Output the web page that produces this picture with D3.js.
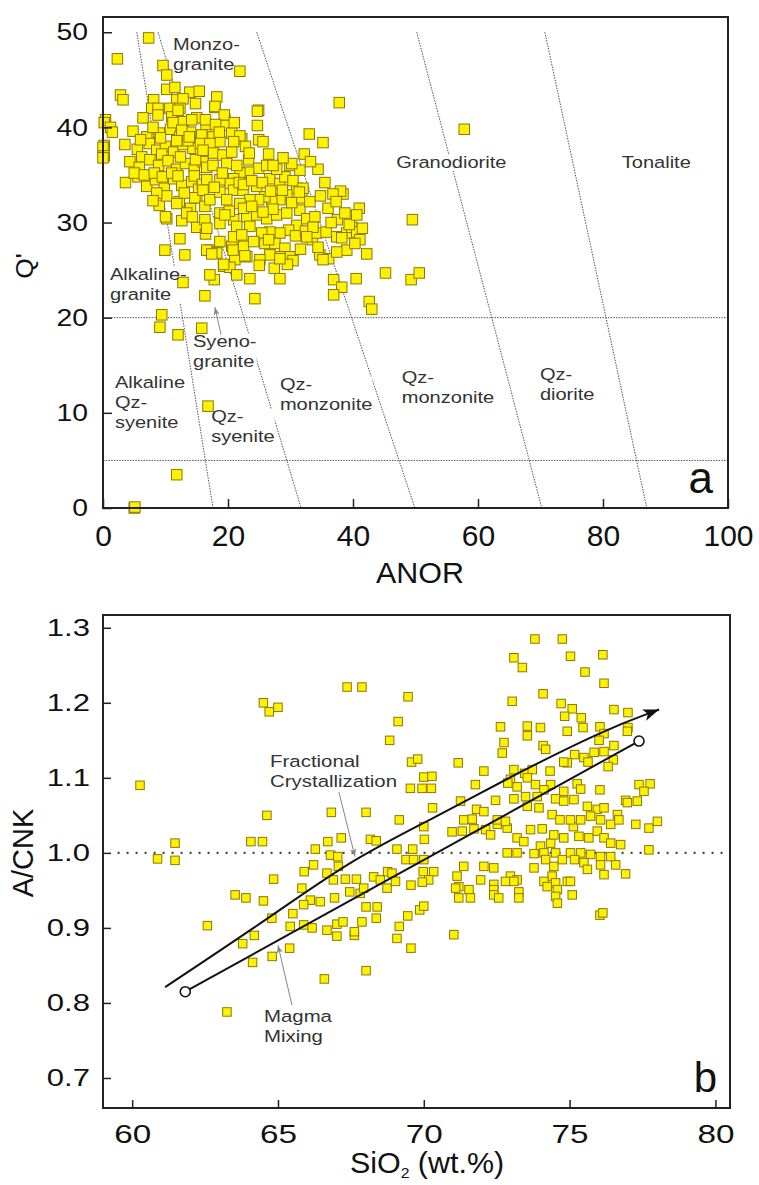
<!DOCTYPE html>
<html>
<head>
<meta charset="utf-8">
<script src="https://cdn.jsdelivr.net/npm/d3@7"></script>
<style>
body { margin: 0; background: #fff; }
svg { display: block; font-family: "Liberation Sans", Arial, sans-serif; }
</style>
</head>
<body>
<svg id="chart" width="759" height="1185"></svg>
<script>

// ---------- panel a : ANOR vs Q' ----------
var anorTicks = [0, 20, 40, 60, 80, 100];
var qTicks = [0, 10, 20, 30, 40, 50];

// field boundaries: ANOR where each line meets Q'=50 and Q'=0
var boundTop = [5.4, 8.8, 24.6, 50.2, 70.7];
var boundBottom = [17.6, 31.7, 49.9, 70.2, 87.0];
var qLevels = [20, 5];

// [ANOR, Q']
var samplesTop = [
    [7.3,49.4],[2.3,47.2],[9.6,46.5],[10.2,45.5],[21.9,45.9],[2.8,43.4],[3.2,42.9],[10.2,44.0],
    [13.9,43.7],[15.4,43.8],[18.2,43.2],[17.9,42.1],[24.9,41.8],[8.1,42.9],[11.8,42.9],[12.8,43.0],
    [7.8,42.0],[8.8,42.0],[10.7,42.0],[12.3,42.0],[24.7,41.7],[33.0,39.3],[35.2,38.4],[37.8,42.6],
    [57.8,39.8],[11.5,44.2],[14.8,42.5]
];
var samplesAxis = [
    [0.4,40.8],[0.2,40.5],[1.2,40.0],[0.2,38.1],[0.0,37.9],[0.2,37.0],[0.0,36.8],[1.5,39.5]
];
var samplesLeft = [
    [6.4,41.0],[8.8,41.3],[11.0,41.1],[12.8,40.6],[15.0,41.0],[19.5,40.8],[16.5,40.3],[24.7,40.2],
    [4.8,39.6],[7.0,39.0],[9.0,39.4],[10.8,39.8],[12.3,39.0],[14.0,39.5],[15.8,39.2],[17.6,39.0],
    [22.2,38.8],[24.9,38.7],[25.6,38.5],[3.5,38.2],[5.5,37.7],[7.4,38.3],[8.6,37.6],[10.0,38.0],
    [11.3,37.4],[12.8,38.2],[14.4,37.8],[15.6,37.3],[13.6,38.6],[9.4,37.2],[6.2,36.9],[4.3,36.4],
    [5.8,35.8],[7.5,36.6],[8.9,36.0],[10.4,36.5],[11.8,35.6],[13.2,36.2],[14.6,35.7],[16.0,36.4],
    [3.6,34.2],[5.6,34.8],[7.0,33.8],[8.4,34.5],[9.8,33.6],[11.3,34.6],[12.6,33.9],[14.2,34.3],
    [15.3,33.5],[9.0,31.8],[10.2,32.8],[12.2,32.2],[14.0,31.5],[15.0,32.6],[10.2,30.4],[12.6,30.2],
    [15.0,29.5],[12.3,28.3],[9.9,27.1],[13.1,26.6],[6.0,38.7],[5.0,35.2],[6.6,35.0],[8.0,40.0],
    [9.2,38.9],[8.2,35.2],[9.5,34.8],[8.6,33.1],[10.0,30.6],[8.0,32.3],[12.0,41.8],[11.2,40.5],
    [12.6,39.7],[11.8,38.6],[12.4,36.9],[11.0,35.2],[12.0,34.9],[13.0,33.1],[11.8,32.0],[13.4,31.0],
    [14.2,40.8],[16.4,40.8],[13.8,39.0],[15.6,38.3],[14.8,36.6],[16.6,35.8],[14.6,34.9],[15.9,34.0],
    [14.7,32.6],[16.3,31.7],[14.3,30.6],[16.4,28.8],[17.1,27.1]
];
var samplesMiddle = [
    [17.9,42.2],[19.4,41.3],[19.4,40.2],[20.6,39.4],[21.9,39.1],[20.9,38.5],[18.7,38.5],[17.1,38.3],
    [16.0,37.6],[17.7,37.3],[19.2,37.1],[20.6,37.4],[19.8,36.2],[23.3,36.6],[24.9,35.7],[23.3,35.3],
    [21.9,35.2],[20.9,34.6],[20.3,34.1],[18.7,34.5],[16.6,34.5],[16.0,33.4],[17.1,32.4],[18.7,33.2],
    [20.9,33.4],[22.4,33.4],[24.6,33.8],[26.7,34.6],[28.3,34.1],[29.1,34.8],[31.0,33.6],[29.4,32.9],
    [28.3,32.4],[27.0,32.4],[25.9,32.7],[24.9,32.4],[23.5,32.4],[21.9,32.0],[19.8,32.4],[18.7,31.0],
    [16.3,30.3],[16.6,29.4],[18.7,29.9],[20.9,30.3],[23.0,30.6],[24.6,30.8],[26.2,30.4],[27.8,30.8],
    [29.4,31.0],[31.5,31.3],[31.0,29.7],[29.7,29.2],[28.3,28.9],[26.7,29.0],[25.4,28.9],[23.5,29.6],
    [21.4,29.6],[18.7,28.0],[20.6,27.5],[22.5,27.5],[20.9,28.5],[24.1,28.0],[25.9,27.8],[27.5,27.8],
    [29.1,27.3],[29.9,26.4],[28.3,26.4],[26.7,26.6],[25.1,26.1],[23.0,26.4],[21.1,26.1],[19.3,25.4],
    [17.7,26.9],[16.6,27.1],[32.2,37.2],[34.4,35.6],[29.9,36.0],[31.5,35.5],[18.0,40.3],[21.0,40.5],
    [18.6,39.5],[17.6,36.0],[21.4,36.0],[19.1,35.2],[21.8,34.2],[17.8,33.7],[20.2,31.2],[22.5,31.5],
    [19.5,30.8],[18.2,26.8],[20.3,25.3],[22.8,38.0],[23.4,37.3],[22.5,34.0],[23.8,34.4],[25.5,34.2],
    [26.8,33.3],[27.8,35.6],[26.2,36.0],[28.7,33.4],[30.4,34.4],[30.2,32.1],[31.8,32.6],[27.2,31.4],
    [25.6,31.1],[23.8,31.7],[22.2,28.7],[26.5,28.2],[30.8,28.6],[32.4,29.1],[33.5,28.2],[31.6,27.2],
    [30.4,26.0],[27.4,25.2]
];
var samplesRight = [
    [34.7,26.6],[36.1,26.2],[34.4,27.4],[37.4,28.5],[39.0,28.9],[39.8,29.5],[40.6,29.0],[41.1,28.2],
    [42.2,26.7],[39.0,27.1],[40.3,27.8],[34.2,28.9],[32.6,30.4],[33.9,30.6],[33.1,32.2],[32.0,33.6],
    [35.7,29.0],[37.4,26.9],[35.2,26.1],[41.0,31.5],[38.4,33.0],[38.0,33.3],[36.0,31.5],[37.5,30.3],
    [38.7,31.0],[39.4,29.8],[40.6,30.8],[41.5,29.4],[38.2,28.4],[36.5,30.0],[33.6,29.5],[32.6,28.5],
    [34.8,32.8],[36.8,33.0],[37.3,32.2],[35.5,34.2],[31.4,33.2],[30.2,36.2],[28.8,36.8],[26.5,37.2],
    [27.2,36.0],[33.2,36.4],[49.5,30.3]
];
var samplesLow = [
    [28.3,24.1],[23.5,24.1],[21.4,24.5],[17.8,24.0],[17.1,24.5],[29.5,25.6],[28.3,26.2],[25.0,25.5],
    [22.7,26.5],[20.8,27.1],[19.3,25.6],[17.4,26.7],[36.9,24.0],[38.2,23.2],[36.9,22.4],[40.5,24.1],
    [42.6,21.7],[43.0,20.9],[45.2,24.7],[49.3,24.0],[50.6,24.7],[12.8,23.7],[16.3,22.3],[24.3,22.0],
    [9.4,20.3],[9.1,19.0],[12.0,18.2],[15.8,18.9],[16.8,10.7],[11.8,3.5],[5.0,0.0],[5.1,0.1]
];

// field names, lines split by "|", anchored at the first baseline
var fieldText = ["Monzo-|granite", "Granodiorite", "Tonalite", "Alkaline-|granite", "Syeno-|granite",
                 "Alkaline|Qz-|syenite", "Qz-|syenite", "Qz-|monzonite", "Qz-|monzonite", "Qz-|diorite"];
var fieldAnor = [11.2, 46.9, 83.0, 1.1, 14.4, 1.9, 17.3, 28.3, 47.8, 69.9];
var fieldQ = [48.1, 35.7, 35.7, 23.95, 16.9, 12.6, 9.0, 12.4, 13.1, 13.4];

// ---------- panel b : SiO2 vs A/CNK ----------
var siTicks = [60, 65, 70, 75, 80];
var acnkTicks = [0.7, 0.8, 0.9, 1.0, 1.1, 1.2, 1.3];

// [SiO2, A/CNK]
var rocksLow = [
    [60.27,1.090],[60.87,0.992],[61.47,1.013],[61.47,0.990],[63.25,0.788],[62.58,0.903],[63.53,0.944],[63.90,0.940],
    [64.50,0.936],[63.79,0.879],[64.19,0.890],[64.13,0.854],[64.80,0.862],[65.40,0.873],[64.79,0.913],[64.85,0.965],
    [64.62,1.050],[64.07,1.015],[64.47,1.015],[64.50,1.200],[64.70,1.188],[65.00,1.194],[67.37,1.221],[67.88,1.221],
    [69.46,1.208],[69.12,1.175],[68.83,1.150],[69.58,1.121],[69.79,1.125],[70.00,1.101],[70.28,1.102],[69.54,1.086],
    [69.94,1.086],[70.26,1.086],[70.30,1.060],[69.16,1.044],[68.02,1.054],[66.83,1.054],[67.17,1.020],[68.17,1.018],
    [68.37,1.016],[69.08,1.005],[69.62,1.005],[70.02,1.018],[70.00,1.035],[66.28,1.005],[66.71,1.015],[66.80,0.997],
    [67.05,0.995],[66.22,0.984],[65.90,0.975],[67.07,0.982],[66.68,0.973],[66.90,0.964],[67.31,0.965],[67.69,0.965],
    [67.46,0.948],[67.82,0.946],[67.94,0.953],[68.28,0.968],[68.51,0.964],[68.76,0.975],[68.91,0.973],[68.74,0.953],
    [69.03,0.962],[69.39,0.991],[69.65,0.991],[70.00,0.991],[69.98,0.975],[70.34,0.975],[70.17,0.964],[69.56,0.957],
    [69.95,0.961],[65.82,0.953],[66.11,0.937],[66.45,0.935],[65.88,0.931],[66.94,0.940],[68.02,0.928],[68.40,0.928],
    [65.51,0.919],[65.88,0.904],[66.17,0.900],[65.42,0.902],[66.68,0.897],[67.02,0.905],[67.23,0.908],[67.02,0.889],
    [67.62,0.890],[67.62,0.895],[67.88,0.908],[68.37,0.913],[69.08,0.886],[69.16,0.902],[69.45,0.916],[69.86,0.924],
    [70.00,0.929],[69.56,0.873],[68.02,0.843],[66.59,0.832]
];
var rocksHigh = [
    [73.81,1.285],[74.75,1.285],[73.09,1.260],[73.38,1.247],[75.03,1.262],[76.14,1.264],[75.53,1.241],[76.18,1.226],
    [74.09,1.212],[73.03,1.202],[74.71,1.199],[75.09,1.192],[74.83,1.182],[75.40,1.180],[76.52,1.191],[77.00,1.187],
    [77.00,1.167],[76.98,1.162],[75.46,1.167],[74.92,1.162],[73.55,1.169],[74.00,1.167],[73.55,1.156],[72.63,1.168],
    [76.04,1.168],[76.18,1.159],[72.75,1.147],[72.69,1.133],[74.09,1.143],[74.18,1.138],[76.01,1.150],[76.52,1.143],
    [75.17,1.131],[74.92,1.120],[75.49,1.127],[75.84,1.134],[76.18,1.135],[75.63,1.121],[76.50,1.124],[76.32,1.115],
    [74.80,1.121],[71.18,1.120],[72.06,1.109],[71.77,1.091],[73.09,1.111],[73.46,1.106],[73.72,1.111],[74.33,1.109],
    [72.97,1.098],[72.88,1.093],[73.20,1.088],[73.55,1.100],[73.83,1.091],[74.35,1.091],[74.12,1.084],[74.80,1.082],
    [75.26,1.092],[75.38,1.085],[76.04,1.084],[77.38,1.091],[77.76,1.092],[77.55,1.082],[77.32,1.069],[76.92,1.070],
    [76.98,1.067],[72.46,1.070],[73.09,1.072],[73.49,1.075],[73.89,1.075],[74.52,1.072],[74.80,1.069],[75.15,1.071],
    [75.61,1.062],[75.95,1.058],[76.18,1.060],[76.64,1.051],[71.26,1.069],[71.81,1.058],[72.06,1.055],[71.37,1.044],
    [71.66,1.045],[72.52,1.044],[72.80,1.042],[73.55,1.062],[73.95,1.060],[74.40,1.051],[74.67,1.044],[75.03,1.044],
    [75.38,1.044],[75.72,1.049],[76.06,1.044],[76.41,1.038],[76.69,1.044],[77.27,1.038],[77.72,1.033],[78.01,1.042],
    [77.72,1.004]
];
var rocksMid = [
    [70.97,1.028],[71.32,1.029],[71.72,1.032],[72.12,1.031],[72.29,1.024],[72.52,1.038],[72.86,1.033],[73.20,1.020],
    [73.43,1.015],[73.66,1.031],[74.06,1.032],[74.00,1.009],[74.35,1.013],[74.46,1.024],[74.80,1.020],[75.13,1.035],
    [75.32,1.022],[75.66,1.020],[75.95,1.029],[76.18,1.020],[76.41,1.013],[76.75,1.011],[72.86,1.000],[73.20,1.000],
    [73.78,0.999],[74.12,1.000],[74.52,1.000],[75.03,1.000],[75.38,1.000],[75.72,0.998],[76.06,0.995],[76.41,0.995],
    [71.37,0.982],[72.06,0.982],[72.40,0.980],[72.97,0.969],[73.20,0.964],[73.78,0.980],[74.18,0.991],[74.46,0.982],
    [74.75,0.991],[74.40,0.969],[74.52,0.960],[74.92,0.962],[75.17,0.991],[75.49,0.987],[75.61,0.978],[76.06,0.984],
    [76.18,0.971],[76.58,0.984],[76.92,0.972],[71.14,0.969],[71.20,0.955],[71.95,0.964],[72.40,0.958],[74.12,0.962],
    [74.23,0.955],[71.09,0.953],[71.20,0.940],[71.55,0.951],[71.60,0.940],[72.40,0.951],[72.40,0.944],[72.57,0.940],
    [72.80,0.962],[73.09,0.962],[73.26,0.948],[73.26,0.940],[74.58,0.951],[74.52,0.942],[74.58,0.933],[75.03,0.962],
    [75.09,0.944],[76.04,0.917],[76.14,0.920],[71.03,0.891]
];

// trends
var fcSi = [61.13, 64.84, 67.59, 70.58, 72.75, 76.18, 78.07];
var fcAcnk = [0.821, 0.917, 0.993, 1.051, 1.097, 1.164, 1.191];
var mmSi = [61.82, 77.38];
var mmAcnk = [0.815, 1.149];

var svg = d3.select("#chart");
var fillYellow = "#fff200", edgeYellow = "#8a7800";

var defs = svg.append("defs");
defs.append("marker").attr("id", "bigArrow")
    .attr("viewBox", "0 0 16 12").attr("refX", 16).attr("refY", 6)
    .attr("markerWidth", 16).attr("markerHeight", 12)
    .attr("markerUnits", "userSpaceOnUse").attr("orient", "auto")
    .append("path").attr("d", "M0,0 L16,6 L0,12 L4,6 Z").attr("fill", "#111");
defs.append("marker").attr("id", "smallArrow")
    .attr("viewBox", "0 0 8 6").attr("refX", 8).attr("refY", 3)
    .attr("markerWidth", 8).attr("markerHeight", 6)
    .attr("markerUnits", "userSpaceOnUse").attr("orient", "auto")
    .append("path").attr("d", "M0,0 L8,3 L0,6 L2,3 Z").attr("fill", "#888");

// text with a horizontal stretch, the figure's fonts are wide
var wideText = function (g, x, y, str, size, sx, anchor, rot) {
    return g.append("text")
        .attr("transform", "translate(" + x + "," + y + ")" + (rot ? " rotate(" + rot + ")" : "") + " scale(" + sx + ",1)")
        .attr("text-anchor", anchor || "start")
        .style("font-size", size + "px")
        .attr("fill", "#111")
        .text(str);
};

// several lines in one text element
var blockText = function (g, x, y, str, size, sx, lineGap) {
    var t = wideText(g, x, y, "", size, sx).attr("fill", "#333");
    str.split("|").forEach(function (line, i) {
        t.append("tspan").attr("x", 0).attr("dy", i === 0 ? 0 : lineGap).text(line);
    });
    return t;
};

var drawAxes = function (x, y, o) {
    var left = x.range()[0], bottom = y.range()[0];

    var gy = svg.append("g").attr("transform", "translate(" + left + ",0)");
    gy.call(d3.axisLeft(y).tickValues(o.yMinor).tickSizeInner(-o.minorLen).tickSizeOuter(0).tickFormat(""));
    gy.call(d3.axisLeft(y).tickValues(o.yMajor).tickSizeInner(-o.majorLen).tickSizeOuter(0)
        .tickPadding(o.yPad / o.ySx).tickFormat(o.yFmt));
    gy.selectAll(".domain").remove();
    gy.attr("font-size", null).attr("font-family", null);
    gy.selectAll("text").attr("transform", "scale(" + o.ySx + ",1)")
        .style("font-size", o.ySize + "px").attr("fill", "#111");

    var gx = svg.append("g").attr("transform", "translate(0," + bottom + ")");
    gx.call(d3.axisBottom(x).tickValues(o.xMinor).tickSizeInner(-o.minorLen).tickSizeOuter(0).tickFormat(""));
    gx.call(d3.axisBottom(x).tickValues(o.xMajor).tickSizeInner(-o.majorLen).tickSizeOuter(0)
        .tickPadding(o.xPad).tickFormat(o.xFmt));
    gx.selectAll(".domain").remove();
    gx.attr("font-size", null).attr("font-family", null);
    gx.selectAll("text").attr("transform", "scale(" + o.xSx + ",1)")
        .style("font-size", o.xSize + "px").attr("fill", "#111");
    gx.selectAll("text").attr("x", 0);

    svg.selectAll(".tick line").attr("stroke", "#222").attr("stroke-width", 1.5);

    svg.append("rect")
        .attr("x", left).attr("y", y.range()[1])
        .attr("width", x.range()[1] - left).attr("height", bottom - y.range()[1])
        .attr("fill", "none").attr("stroke", "#222").attr("stroke-width", 2);
};

var drawSquares = function (g, pts, x, y, size) {
    g.selectAll("rect.pt").data(pts).enter().append("rect")
        .attr("class", "pt")
        .attr("x", function (d) { return x(d[0]) - size / 2; })
        .attr("y", function (d) { return y(d[1]) - size / 2; })
        .attr("width", size).attr("height", size)
        .attr("fill", fillYellow).attr("stroke", edgeYellow).attr("stroke-width", 1);
};

// ================= panel a =================
var xA = d3.scaleLinear().domain([0, 100]).range([103, 728]);
var yA = d3.scaleLinear().domain([0, 51.6]).range([508, 17]);

var gLinesA = svg.append("g");
qLevels.forEach(function (q) {
    gLinesA.append("line")
        .attr("x1", xA(0)).attr("x2", xA(100)).attr("y1", yA(q)).attr("y2", yA(q))
        .attr("stroke", "#555").attr("stroke-width", 1).attr("stroke-dasharray", "1.5,1.2");
});
boundTop.forEach(function (t, i) {
    gLinesA.append("line")
        .attr("x1", xA(t)).attr("y1", yA(50)).attr("x2", xA(boundBottom[i])).attr("y2", yA(0))
        .attr("stroke", "#555").attr("stroke-width", 1).attr("stroke-dasharray", "1.5,1.2");
});

var bgA = svg.append("g");
var ptsA = svg.append("g");
var txtA = svg.append("g");

drawSquares(ptsA, samplesTop.concat(samplesLeft, samplesMiddle, samplesRight, samplesLow, samplesAxis), xA, yA, 10.5);

fieldText.forEach(function (s, i) {
    var t = blockText(txtA, xA(fieldAnor[i]), yA(fieldQ[i]), s, 17, 1.18, 20);
    var bb = t.node().getBBox();
    bgA.append("rect").attr("transform", t.attr("transform"))
        .attr("x", bb.x).attr("y", bb.y + 2).attr("width", bb.width).attr("height", bb.height - 3)
        .attr("fill", "#fff");
});

// leader for Syeno-granite
txtA.append("line")
    .attr("x1", xA(18.9)).attr("y1", yA(18.2)).attr("x2", xA(17.9)).attr("y2", yA(21.1))
    .attr("stroke", "#888").attr("stroke-width", 1).attr("marker-end", "url(#smallArrow)");

drawAxes(xA, yA, {
    yMajor: qTicks, yMinor: d3.range(0, 52, 1), xMajor: anorTicks, xMinor: d3.range(0, 101, 4),
    majorLen: 9, minorLen: 4.5, yPad: 15, ySx: 1.18, ySize: 24, xPad: 17, xSx: 1.0, xSize: 30,
    yFmt: d3.format("d"), xFmt: d3.format("d")
});

wideText(svg, 33, 266, "Q'", 23, 1.15, "middle", -90);
wideText(svg, 420, 583, "ANOR", 29, 1.05, "middle");
wideText(svg, 713, 493, "a", 44, 1.0, "end");

// ================= panel b =================
var xB = d3.scaleLinear().domain([59, 80.5]).range([103, 730]);
var yB = d3.scaleLinear().domain([0.66, 1.317]).range([1108, 615]);

svg.append("line")
    .attr("x1", xB(59.5)).attr("x2", xB(80.5)).attr("y1", yB(1.0)).attr("y2", yB(1.0))
    .attr("stroke", "#444").attr("stroke-width", 2.2).attr("stroke-dasharray", "2,7");

var ptsB = svg.append("g");
drawSquares(ptsB, rocksLow.concat(rocksMid, rocksHigh), xB, yB, 8.5);

var fcLine = d3.line()
    .x(function (d) { return xB(d[0]); })
    .y(function (d) { return yB(d[1]); })
    .curve(d3.curveBasis);
svg.append("path")
    .attr("d", fcLine(fcSi.map(function (s, i) { return [s, fcAcnk[i]]; })))
    .attr("fill", "none").attr("stroke", "#111").attr("stroke-width", 2)
    .attr("marker-end", "url(#bigArrow)");

svg.append("line")
    .attr("x1", xB(mmSi[0])).attr("y1", yB(mmAcnk[0]))
    .attr("x2", xB(mmSi[1])).attr("y2", yB(mmAcnk[1]))
    .attr("stroke", "#111").attr("stroke-width", 2);
mmSi.forEach(function (s, i) {
    svg.append("circle").attr("cx", xB(s)).attr("cy", yB(mmAcnk[i])).attr("r", 5)
        .attr("fill", "#fff").attr("stroke", "#111").attr("stroke-width", 1.6);
});

var txtB = svg.append("g");
blockText(txtB, xB(64.73), yB(1.115), "Fractional|Crystallization", 17, 1.2, 20);
blockText(txtB, xB(64.52), yB(0.775), "Magma|Mixing", 17, 1.2, 20);
txtB.append("line")
    .attr("x1", xB(67.09)).attr("y1", yB(1.081)).attr("x2", xB(67.64)).attr("y2", yB(0.995))
    .attr("stroke", "#888").attr("stroke-width", 1).attr("marker-end", "url(#smallArrow)");
txtB.append("line")
    .attr("x1", xB(65.48)).attr("y1", yB(0.797)).attr("x2", xB(65.0)).attr("y2", yB(0.877))
    .attr("stroke", "#888").attr("stroke-width", 1).attr("marker-end", "url(#smallArrow)");

drawAxes(xB, yB, {
    yMajor: acnkTicks, yMinor: d3.range(0.7, 1.32, 0.05), xMajor: siTicks, xMinor: d3.range(60, 80.1, 2.5),
    majorLen: 8, minorLen: 4.5, yPad: 13, ySx: 1.35, ySize: 23, xPad: 17, xSx: 1.28, xSize: 26,
    yFmt: d3.format(".1f"), xFmt: d3.format("d")
});

wideText(svg, 33, 853, "A/CNK", 29, 1.0, "middle", -90);
var title = wideText(svg, 427, 1173, "", 29, 1.05, "middle");
title.append("tspan").text("SiO");
title.append("tspan").text("2").style("font-size", "15px").attr("dy", 5);
title.append("tspan").text(" (wt.%)").attr("dy", -5);
wideText(svg, 717, 1092, "b", 42, 1.0, "end");

</script>
</body>
</html>
